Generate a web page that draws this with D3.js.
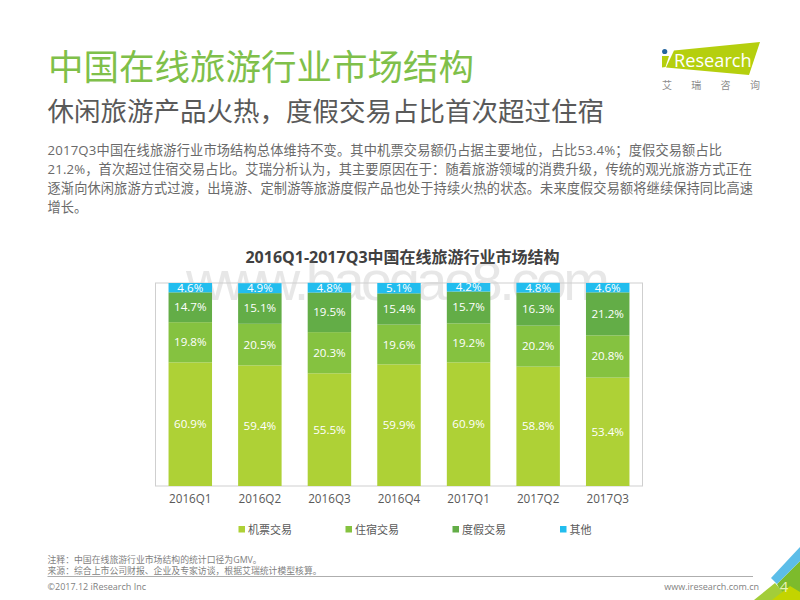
<!DOCTYPE html>
<html>
<head>
<meta charset="utf-8">
<script src="https://cdnjs.cloudflare.com/ajax/libs/d3/7.8.5/d3.min.js"></script>
<style>
  html, body { margin: 0; padding: 0; background: #fff; }
  svg { display: block; }
  text { font-family: "Open Sans", "Noto Sans CJK SC", sans-serif; }
</style>
</head>
<body>
<script>
// Chart data
var quarters = ["2016Q1", "2016Q2", "2016Q3", "2016Q4", "2017Q1", "2017Q2", "2017Q3"];
var flight = [60.9, 59.4, 55.5, 59.9, 60.9, 58.8, 53.4];
var hotel = [19.8, 20.5, 20.3, 19.6, 19.2, 20.2, 20.8];
var vacation = [14.7, 15.1, 19.5, 15.4, 15.7, 16.3, 21.2];
var other = [4.6, 4.9, 4.8, 5.1, 4.2, 4.8, 4.6];

var seriesNames = ["机票交易", "住宿交易", "度假交易", "其他"];
var seriesColors = ["#aed136", "#85c240", "#63ad47", "#22bdee"];
var bodyLines = [
  "2017Q3中国在线旅游行业市场结构总体维持不变。其中机票交易额仍占据主要地位，占比53.4%；度假交易额占比",
  "21.2%，首次超过住宿交易占比。艾瑞分析认为，其主要原因在于：随着旅游领域的消费升级，传统的观光旅游方式正在",
  "逐渐向休闲旅游方式过渡，出境游、定制游等旅游度假产品也处于持续火热的状态。未来度假交易额将继续保持同比高速",
  "增长。"
];
// measured line widths, so the paragraph ends where the reference does
var bodyWidths = [674.5, 704.5, 705.5, 39.6];

var svg = d3.select("body").append("svg")
  .attr("width", 800)
  .attr("height", 600);

// page headings
svg.append("text").attr("x", 48).attr("y", 80)
  .attr("font-size", 35.5).attr("fill", "#7fc04a")
  .text("中国在线旅游行业市场结构");
svg.append("text").attr("x", 47.5).attr("y", 121)
  .attr("font-size", 26.5).attr("fill", "#595959")
  .text("休闲旅游产品火热，度假交易占比首次超过住宿");

svg.selectAll(".body-line").data(bodyLines).enter().append("text")
  .attr("class", "body-line")
  .attr("x", 47.5)
  .attr("y", (d, i) => 154.5 + i * 19.3)
  .attr("font-size", 13.2)
  .attr("fill", "#6a6a6a")
  .attr("textLength", (d, i) => bodyWidths[i])
  .text(d => d);

// chart title
svg.append("text").attr("x", 402.5).attr("y", 263)
  .attr("text-anchor", "middle")
  .attr("font-size", 16).attr("font-weight", "bold").attr("fill", "#404040")
  .text("2016Q1-2017Q3中国在线旅游行业市场结构");

// watermark sits behind the bars
svg.append("text").attr("x", 186).attr("y", 300)
  .attr("font-size", 56).attr("fill", "#808080").attr("opacity", 0.18)
  .style("font-family", '"Liberation Sans", sans-serif')
  .attr("textLength", 424)
  .text("www.baogao8.com");

// Chart params
var x = d3.scaleBand().domain(quarters).range([155.5, 642.5]).paddingInner(0.375).paddingOuter(0.1875);
var y = d3.scaleLinear().domain([0, 100]).range([486, 283]);

// plot frame
svg.append("rect")
  .attr("x", 155.5).attr("y", 283)
  .attr("width", 487).attr("height", 203)
  .attr("fill", "none").attr("stroke", "#cfcfcf").attr("stroke-width", 1);

// stack the four arrays
var table = quarters.map(function(q, i) {
  return { quarter: q, "机票交易": flight[i], "住宿交易": hotel[i], "度假交易": vacation[i], "其他": other[i] };
});
var stacked = d3.stack().keys(seriesNames)(table);

var layers = svg.selectAll(".layer").data(stacked).enter().append("g")
  .attr("class", "layer")
  .attr("fill", (d, i) => seriesColors[i]);

layers.selectAll("rect").data(d => d).enter().append("rect")
  .attr("x", d => x(d.data.quarter))
  .attr("y", d => y(d[1]))
  .attr("width", x.bandwidth())
  .attr("height", d => y(d[0]) - y(d[1]));

layers.selectAll("text").data(d => d).enter().append("text")
  .attr("x", d => x(d.data.quarter) + x.bandwidth() / 2)
  .attr("y", d => (y(d[0]) + y(d[1])) / 2 + 4)
  .attr("text-anchor", "middle")
  .attr("font-size", 11.6)
  .attr("fill", "#fff")
  .text(d => (d[1] - d[0]).toFixed(1) + "%");

// x axis labels
var xAxis = svg.append("g")
  .attr("transform", "translate(0,486)")
  .call(d3.axisBottom(x).tickSize(0).tickPadding(9));
xAxis.select(".domain").remove();
xAxis.selectAll("text")
  .attr("font-size", 11.7).attr("fill", "#595959")
  .style("font-family", '"Open Sans", sans-serif');

// legend
var legendX = d3.scaleOrdinal().domain(seriesNames).range([238.5, 345.5, 452.5, 560]);
var legend = svg.selectAll(".legend").data(seriesNames).enter().append("g")
  .attr("class", "legend")
  .attr("transform", d => `translate(${legendX(d)},529)`);
legend.append("rect")
  .attr("y", -3).attr("width", 6.5).attr("height", 6.5)
  .attr("fill", (d, i) => seriesColors[i]);
legend.append("text")
  .attr("x", 9.5).attr("y", 4.5)
  .attr("font-size", 11).attr("fill", "#595959")
  .text(d => d);

// footnotes
svg.append("text").attr("x", 47.5).attr("y", 563)
  .attr("font-size", 8.85).attr("fill", "#7f7f7f")
  .text("注释：中国在线旅游行业市场结构的统计口径为GMV。");
svg.append("text").attr("x", 47.5).attr("y", 573.5)
  .attr("font-size", 8.85).attr("fill", "#7f7f7f")
  .text("来源：综合上市公司财报、企业及专家访谈，根据艾瑞统计模型核算。");
svg.append("line")
  .attr("x1", 47.5).attr("x2", 753).attr("y1", 576.5).attr("y2", 576.5)
  .attr("stroke", "#999").attr("stroke-width", 0.8);
svg.append("text").attr("x", 47.5).attr("y", 590)
  .attr("font-size", 9).attr("fill", "#7f7f7f")
  .text("©2017.12 iResearch Inc");
svg.append("text").attr("x", 759).attr("y", 590)
  .attr("text-anchor", "end")
  .attr("font-size", 9).attr("fill", "#7f7f7f")
  .text("www.iresearch.com.cn");

// corner decoration
svg.append("polygon").attr("points", "800,561 777,584 785,600 800,600").attr("fill", "#7dbb2c");
svg.append("polygon").attr("points", "775,583 754,600 790,600").attr("fill", "#a3cd39");
svg.append("polygon").attr("points", "772,600 790,586 800,592 800,600").attr("fill", "#c3d400");
svg.append("polygon").attr("points", "800,547 771,578 777,584 800,561").attr("fill", "#5cbde8");
svg.append("text").attr("x", 784).attr("y", 592)
  .attr("text-anchor", "middle")
  .attr("font-size", 15).attr("fill", "#e9f3b8")
  .text("4");

// logo
svg.append("polygon").attr("points", "674,50.5 760,42 749,75 666,67.5").attr("fill", "#b5cf0e");
svg.append("polygon").attr("points", "662,56 669,56 665.5,67 662,67.5").attr("fill", "#b5cf0e");
svg.append("circle").attr("cx", 664.7).attr("cy", 51.5).attr("r", 2.6).attr("fill", "#25659f");
svg.append("text").attr("x", 674).attr("y", 67)
  .attr("font-size", 18.2).attr("fill", "#fff")
  .style("font-family", '"Open Sans", sans-serif')
  .text("Research");
svg.append("g").selectAll("text").data(["艾", "瑞", "咨", "询"]).enter().append("text")
  .attr("x", (d, i) => 667 + i * 29.3)
  .attr("y", 89)
  .attr("text-anchor", "middle")
  .attr("font-size", 10).attr("fill", "#8c8c8c")
  .text(d => d);
</script>
</body>
</html>
